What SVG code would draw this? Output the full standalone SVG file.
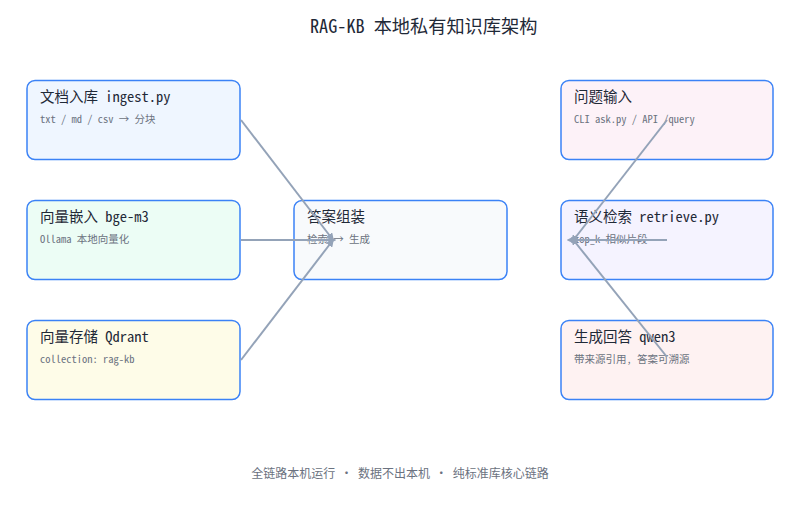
<svg xmlns="http://www.w3.org/2000/svg" width="800" height="507" viewBox="0 0 800 507">
<style>
.box{stroke:#3b82f6;stroke-width:1.5}
.t{font-family:"Noto Sans Mono CJK SC","DejaVu Sans Mono","Noto Sans CJK SC",monospace;font-size:14.5px;fill:#1f2937}
.s{font-family:"Noto Sans Mono CJK SC","DejaVu Sans Mono","Noto Sans CJK SC",monospace;font-size:10.5px;fill:#6b7280}
.edge{stroke:#94a3b8;stroke-width:2;fill:none;marker-end:url(#ah)}
</style>
<defs>
<marker id="ah" viewBox="0 0 10 10" refX="2" refY="5" markerWidth="4" markerHeight="4" orient="auto" markerUnits="strokeWidth">
<path d="M0,0 L10,5 L0,10 z" fill="#94a3b8"/>
</marker>
</defs>
<rect width="800" height="507" fill="#ffffff"/>
<text x="310" y="33" font-family="'Noto Sans Mono CJK SC','DejaVu Sans Mono','Noto Sans CJK SC',monospace" font-size="18.2" fill="#1f2937">RAG-KB 本地私有知识库架构</text>

<g id="ingest"><rect class="box" x="27" y="80.5" width="213" height="79" rx="8" fill="#eff6ff"/><text class="t" x="40" y="102">文档入库 ingest.py</text><text class="s" x="40" y="123">txt / md / csv → 分块</text></g>
<g id="embed"><rect class="box" x="27" y="200.5" width="213" height="79" rx="8" fill="#ecfdf5"/><text class="t" x="40" y="222">向量嵌入 bge-m3</text><text class="s" x="40" y="243">Ollama 本地向量化</text></g>
<g id="store"><rect class="box" x="27" y="320.5" width="213" height="79" rx="8" fill="#fefce8"/><text class="t" x="40" y="342">向量存储 Qdrant</text><text class="s" x="40" y="363">collection: rag-kb</text></g>
<g id="assemble"><rect class="box" x="294" y="200.5" width="213" height="79" rx="8" fill="#f8fafc"/><text class="t" x="307" y="222">答案组装</text><text class="s" x="307" y="243">检索 → 生成</text></g>
<g id="question"><rect class="box" x="561" y="80.5" width="212" height="79" rx="8" fill="#fdf2f8"/><text class="t" x="574" y="102">问题输入</text><text class="s" x="574" y="123">CLI ask.py / API /query</text></g>
<g id="retrieve"><rect class="box" x="561" y="200.5" width="212" height="79" rx="8" fill="#f5f3ff"/><text class="t" x="574" y="222">语义检索 retrieve.py</text><text class="s" x="574" y="243">top_k 相似片段</text></g>
<g id="generate"><rect class="box" x="561" y="320.5" width="212" height="79" rx="8" fill="#fef2f2"/><text class="t" x="574" y="342">生成回答 qwen3</text><text class="s" x="574" y="363">带来源引用, 答案可溯源</text></g>

<g id="connectors">
<line class="edge" x1="241" y1="120" x2="330" y2="236"/>
<line class="edge" x1="241" y1="240" x2="330" y2="240"/>
<line class="edge" x1="241" y1="360" x2="330" y2="244"/>
<line class="edge" x1="667" y1="120" x2="575" y2="238"/>
<line class="edge" x1="667" y1="240" x2="573" y2="240"/>
<line class="edge" x1="667" y1="357" x2="575" y2="242"/>
</g>

<text x="400" y="478" text-anchor="middle" font-family="'Noto Sans CJK SC',sans-serif" font-size="12" fill="#6b7280" xml:space="preserve">全链路本机运行  ·  数据不出本机  ·  纯标准库核心链路</text>
</svg>
